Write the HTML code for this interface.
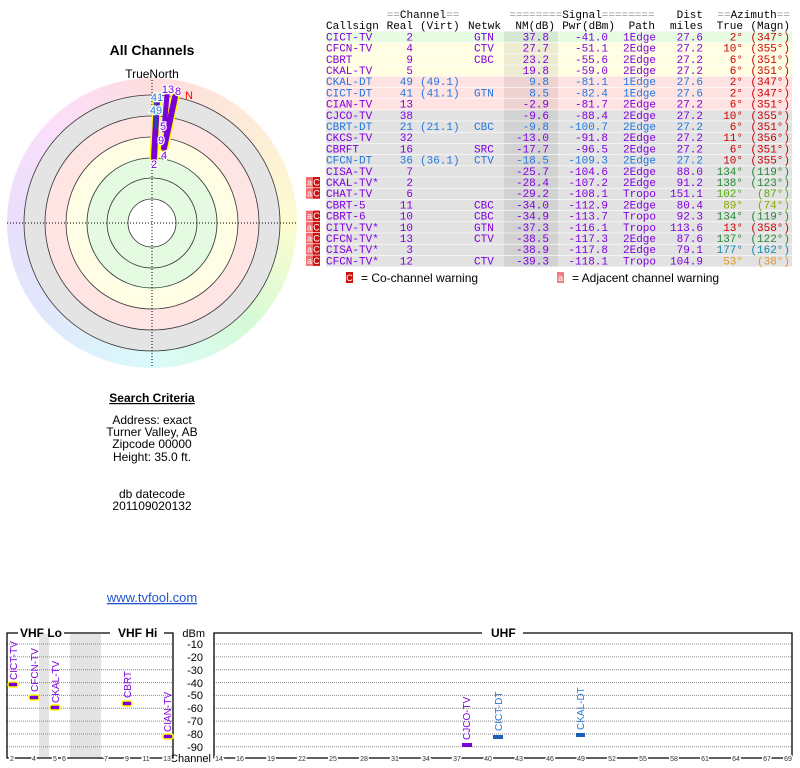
<!DOCTYPE html>
<html><head><meta charset="utf-8"><style>
html,body{margin:0;padding:0;background:#fff;}
#wrap{position:relative;width:800px;height:768px;overflow:hidden;}
#ring{position:absolute;left:7px;top:78px;width:290px;height:290px;border-radius:50%;
background:conic-gradient(from 0deg,hsl(0,90%,93%),hsl(30,90%,92%),hsl(60,90%,90%),hsl(120,80%,91%),hsl(180,80%,92%),hsl(220,80%,93%),hsl(260,80%,93%),hsl(300,80%,93%),hsl(360,90%,93%));}
svg{position:absolute;left:0;top:0;}
.m{font-family:"Liberation Mono","DejaVu Sans Mono",monospace;font-size:11px;}
.s{font-family:"Liberation Sans","DejaVu Sans",sans-serif;}
</style></head><body><div id="wrap"><div id="ring"></div>
<svg width="800" height="768" viewBox="0 0 800 768">
<!-- radar -->
<circle cx="152" cy="223" r="128" fill="#e4e4e4"/>
<circle cx="152" cy="223" r="107" fill="#ffe4e4"/>
<circle cx="152" cy="223" r="86" fill="#fffde4"/>
<circle cx="152" cy="223" r="66" fill="#e4fbe2"/>
<circle cx="152" cy="223" r="24" fill="#fff"/>
<g fill="none" stroke="#333" stroke-width="0.8">
<circle cx="152" cy="223" r="128"/><circle cx="152" cy="223" r="107"/><circle cx="152" cy="223" r="86"/><circle cx="152" cy="223" r="65"/><circle cx="152" cy="223" r="45"/><circle cx="152" cy="223" r="24"/></g>
<g stroke="#000" stroke-width="1" stroke-dasharray="1,2"><line x1="7" y1="223" x2="297" y2="223"/><line x1="152" y1="80" x2="152" y2="366"/></g>
<g stroke-linecap="round">
<line x1="154" y1="158" x2="157" y2="100" stroke="#ff0" stroke-width="9"/>
<line x1="164" y1="148" x2="175" y2="97" stroke="#ff0" stroke-width="9"/>
<line x1="154" y1="158" x2="157" y2="100" stroke="#7a00d8" stroke-width="6"/>
<line x1="164" y1="148" x2="175" y2="97" stroke="#7a00d8" stroke-width="6"/>
<line x1="164" y1="130" x2="167" y2="95" stroke="#7a00d8" stroke-width="5"/>
<line x1="156" y1="102" x2="156" y2="128" stroke="#1a4fa8" stroke-width="3"/>
</g>
<g class="s" font-size="11" text-anchor="middle" stroke="#fff" stroke-width="2.5" paint-order="stroke">
<text x="157" y="101" fill="#2277dd">41</text><text x="156" y="114" fill="#2277dd">49</text>
<text x="168" y="93" fill="#8000e0">13</text><text x="178" y="95" fill="#8000e0">8</text>
<text x="163" y="130" fill="#8000e0">5</text><text x="161" y="144" fill="#8000e0">9</text>
<text x="164" y="159" fill="#8000e0">4</text><text x="154" y="168" fill="#8000e0">2</text>
</g>
<text x="189" y="99" class="s" font-size="11" fill="#f00" text-anchor="middle">N</text>
<text x="152" y="78" class="s" font-size="12" text-anchor="middle">TrueNorth</text>
<text x="152" y="55" class="s" font-size="14" font-weight="bold" text-anchor="middle">All Channels</text>
<g class="s" font-size="12" text-anchor="middle">
<text x="152" y="402" font-weight="bold" text-decoration="underline">Search Criteria</text>
<text x="152" y="424">Address: exact</text>
<text x="152" y="436">Turner Valley, AB</text>
<text x="152" y="448">Zipcode 00000</text>
<text x="152" y="461">Height: 35.0 ft.</text>
<text x="152" y="498">db datecode</text>
<text x="152" y="510">201109020132</text>
<text x="152" y="602" fill="#2255cc" font-size="13" text-decoration="underline">www.tvfool.com</text>
</g>
<!-- table backgrounds -->
<rect x="326" y="31.4" width="466" height="11.2" fill="#e6fbe2"/>
<rect x="326" y="42.6" width="466" height="33.6" fill="#fffde2"/>
<rect x="326" y="76.2" width="466" height="33.6" fill="#ffe2e2"/>
<rect x="326" y="109.8" width="466" height="156.8" fill="#e2e2e2"/>
<rect x="504" y="31.4" width="54" height="235.2" fill="#000" fill-opacity="0.07"/>
<g stroke="#fff" stroke-width="0.6"><line x1="326" x2="792" y1="42.6" y2="42.6"/><line x1="326" x2="792" y1="53.8" y2="53.8"/><line x1="326" x2="792" y1="65" y2="65"/><line x1="326" x2="792" y1="76.2" y2="76.2"/><line x1="326" x2="792" y1="87.4" y2="87.4"/><line x1="326" x2="792" y1="98.6" y2="98.6"/><line x1="326" x2="792" y1="109.8" y2="109.8"/><line x1="326" x2="792" y1="121" y2="121"/><line x1="326" x2="792" y1="132.2" y2="132.2"/><line x1="326" x2="792" y1="143.4" y2="143.4"/><line x1="326" x2="792" y1="154.6" y2="154.6"/><line x1="326" x2="792" y1="165.8" y2="165.8"/><line x1="326" x2="792" y1="177" y2="177"/><line x1="326" x2="792" y1="188.2" y2="188.2"/><line x1="326" x2="792" y1="199.4" y2="199.4"/><line x1="326" x2="792" y1="210.6" y2="210.6"/><line x1="326" x2="792" y1="221.8" y2="221.8"/><line x1="326" x2="792" y1="233" y2="233"/><line x1="326" x2="792" y1="244.2" y2="244.2"/><line x1="326" x2="792" y1="255.4" y2="255.4"/></g>
<!-- headers -->
<g class="m">
<text x="423" y="18" text-anchor="middle"><tspan fill="#999">==</tspan>Channel<tspan fill="#999">==</tspan></text>
<text x="582" y="18" text-anchor="middle"><tspan fill="#999">========</tspan>Signal<tspan fill="#999">========</tspan></text>
<text x="703" y="18" text-anchor="end">Dist</text>
<text x="790" y="18" text-anchor="end"><tspan fill="#999">==</tspan>Azimuth<tspan fill="#999">==</tspan></text>
<text x="326" y="29">Callsign</text><text x="413" y="29" text-anchor="end">Real</text><text x="420" y="29">(Virt)</text>
<text x="468" y="29">Netwk</text><text x="555" y="29" text-anchor="end">NM(dB)</text><text x="615" y="29" text-anchor="end">Pwr(dBm)</text>
<text x="655" y="29" text-anchor="end">Path</text><text x="703" y="29" text-anchor="end">miles</text><text x="743" y="29" text-anchor="end">True</text><text x="790" y="29" text-anchor="end">(Magn)</text>
</g>
<!-- rows -->
<g class="m" fill="#8000e0">
<g transform="translate(0,40.4)"><text x="326">CICT-TV</text><text x="413" text-anchor="end">2</text><text x="474">GTN</text><text x="549" text-anchor="end">37.8</text><text x="608" text-anchor="end">-41.0</text><text x="623">1Edge</text><text x="703" text-anchor="end">27.6</text><text x="743" text-anchor="end" fill="#cc0000">2°</text><text x="790" text-anchor="end" fill="#cc0000">(347°)</text></g>
<g transform="translate(0,51.6)"><text x="326">CFCN-TV</text><text x="413" text-anchor="end">4</text><text x="474">CTV</text><text x="549" text-anchor="end">27.7</text><text x="608" text-anchor="end">-51.1</text><text x="623">2Edge</text><text x="703" text-anchor="end">27.2</text><text x="743" text-anchor="end" fill="#cc0000">10°</text><text x="790" text-anchor="end" fill="#cc0000">(355°)</text></g>
<g transform="translate(0,62.8)"><text x="326">CBRT</text><text x="413" text-anchor="end">9</text><text x="474">CBC</text><text x="549" text-anchor="end">23.2</text><text x="608" text-anchor="end">-55.6</text><text x="623">2Edge</text><text x="703" text-anchor="end">27.2</text><text x="743" text-anchor="end" fill="#cc0000">6°</text><text x="790" text-anchor="end" fill="#cc0000">(351°)</text></g>
<g transform="translate(0,74)"><text x="326">CKAL-TV</text><text x="413" text-anchor="end">5</text><text x="549" text-anchor="end">19.8</text><text x="608" text-anchor="end">-59.0</text><text x="623">2Edge</text><text x="703" text-anchor="end">27.2</text><text x="743" text-anchor="end" fill="#cc0000">6°</text><text x="790" text-anchor="end" fill="#cc0000">(351°)</text></g>
<g transform="translate(0,85.2)" fill="#2277dd"><text x="326">CKAL-DT</text><text x="413" text-anchor="end">49</text><text x="420">(49.1)</text><text x="549" text-anchor="end">9.8</text><text x="608" text-anchor="end">-81.1</text><text x="623">1Edge</text><text x="703" text-anchor="end">27.6</text><text x="743" text-anchor="end" fill="#cc0000">2°</text><text x="790" text-anchor="end" fill="#cc0000">(347°)</text></g>
<g transform="translate(0,96.4)" fill="#2277dd"><text x="326">CICT-DT</text><text x="413" text-anchor="end">41</text><text x="420">(41.1)</text><text x="474">GTN</text><text x="549" text-anchor="end">8.5</text><text x="608" text-anchor="end">-82.4</text><text x="623">1Edge</text><text x="703" text-anchor="end">27.6</text><text x="743" text-anchor="end" fill="#cc0000">2°</text><text x="790" text-anchor="end" fill="#cc0000">(347°)</text></g>
<g transform="translate(0,107.6)"><text x="326">CIAN-TV</text><text x="413" text-anchor="end">13</text><text x="549" text-anchor="end">-2.9</text><text x="608" text-anchor="end">-81.7</text><text x="623">2Edge</text><text x="703" text-anchor="end">27.2</text><text x="743" text-anchor="end" fill="#cc0000">6°</text><text x="790" text-anchor="end" fill="#cc0000">(351°)</text></g>
<g transform="translate(0,118.8)"><text x="326">CJCO-TV</text><text x="413" text-anchor="end">38</text><text x="549" text-anchor="end">-9.6</text><text x="608" text-anchor="end">-88.4</text><text x="623">2Edge</text><text x="703" text-anchor="end">27.2</text><text x="743" text-anchor="end" fill="#cc0000">10°</text><text x="790" text-anchor="end" fill="#cc0000">(355°)</text></g>
<g transform="translate(0,130)" fill="#2277dd"><text x="326">CBRT-DT</text><text x="413" text-anchor="end">21</text><text x="420">(21.1)</text><text x="474">CBC</text><text x="549" text-anchor="end">-9.8</text><text x="608" text-anchor="end">-100.7</text><text x="623">2Edge</text><text x="703" text-anchor="end">27.2</text><text x="743" text-anchor="end" fill="#cc0000">6°</text><text x="790" text-anchor="end" fill="#cc0000">(351°)</text></g>
<g transform="translate(0,141.2)"><text x="326">CKCS-TV</text><text x="413" text-anchor="end">32</text><text x="549" text-anchor="end">-13.0</text><text x="608" text-anchor="end">-91.8</text><text x="623">2Edge</text><text x="703" text-anchor="end">27.2</text><text x="743" text-anchor="end" fill="#cc0000">11°</text><text x="790" text-anchor="end" fill="#cc0000">(356°)</text></g>
<g transform="translate(0,152.4)"><text x="326">CBRFT</text><text x="413" text-anchor="end">16</text><text x="474">SRC</text><text x="549" text-anchor="end">-17.7</text><text x="608" text-anchor="end">-96.5</text><text x="623">2Edge</text><text x="703" text-anchor="end">27.2</text><text x="743" text-anchor="end" fill="#cc0000">6°</text><text x="790" text-anchor="end" fill="#cc0000">(351°)</text></g>
<g transform="translate(0,163.6)" fill="#2277dd"><text x="326">CFCN-DT</text><text x="413" text-anchor="end">36</text><text x="420">(36.1)</text><text x="474">CTV</text><text x="549" text-anchor="end">-18.5</text><text x="608" text-anchor="end">-109.3</text><text x="623">2Edge</text><text x="703" text-anchor="end">27.2</text><text x="743" text-anchor="end" fill="#cc0000">10°</text><text x="790" text-anchor="end" fill="#cc0000">(355°)</text></g>
<g transform="translate(0,174.8)"><text x="326">CISA-TV</text><text x="413" text-anchor="end">7</text><text x="549" text-anchor="end">-25.7</text><text x="608" text-anchor="end">-104.6</text><text x="623">2Edge</text><text x="703" text-anchor="end">88.0</text><text x="743" text-anchor="end" fill="#228833">134°</text><text x="790" text-anchor="end" fill="#228833">(119°)</text></g>
<g transform="translate(0,186)"><text x="326">CKAL-TV*</text><text x="413" text-anchor="end">2</text><text x="549" text-anchor="end">-28.4</text><text x="608" text-anchor="end">-107.2</text><text x="623">2Edge</text><text x="703" text-anchor="end">91.2</text><text x="743" text-anchor="end" fill="#228833">138°</text><text x="790" text-anchor="end" fill="#228833">(123°)</text></g>
<g transform="translate(0,197.2)"><text x="326">CHAT-TV</text><text x="413" text-anchor="end">6</text><text x="549" text-anchor="end">-29.2</text><text x="608" text-anchor="end">-108.1</text><text x="623">Tropo</text><text x="703" text-anchor="end">151.1</text><text x="743" text-anchor="end" fill="#55aa11">102°</text><text x="790" text-anchor="end" fill="#55aa11">(87°)</text></g>
<g transform="translate(0,208.4)"><text x="326">CBRT-5</text><text x="413" text-anchor="end">11</text><text x="474">CBC</text><text x="549" text-anchor="end">-34.0</text><text x="608" text-anchor="end">-112.9</text><text x="623">2Edge</text><text x="703" text-anchor="end">80.4</text><text x="743" text-anchor="end" fill="#88aa00">89°</text><text x="790" text-anchor="end" fill="#88aa00">(74°)</text></g>
<g transform="translate(0,219.6)"><text x="326">CBRT-6</text><text x="413" text-anchor="end">10</text><text x="474">CBC</text><text x="549" text-anchor="end">-34.9</text><text x="608" text-anchor="end">-113.7</text><text x="623">Tropo</text><text x="703" text-anchor="end">92.3</text><text x="743" text-anchor="end" fill="#228833">134°</text><text x="790" text-anchor="end" fill="#228833">(119°)</text></g>
<g transform="translate(0,230.8)"><text x="326">CITV-TV*</text><text x="413" text-anchor="end">10</text><text x="474">GTN</text><text x="549" text-anchor="end">-37.3</text><text x="608" text-anchor="end">-116.1</text><text x="623">Tropo</text><text x="703" text-anchor="end">113.6</text><text x="743" text-anchor="end" fill="#cc0000">13°</text><text x="790" text-anchor="end" fill="#cc0000">(358°)</text></g>
<g transform="translate(0,242)"><text x="326">CFCN-TV*</text><text x="413" text-anchor="end">13</text><text x="474">CTV</text><text x="549" text-anchor="end">-38.5</text><text x="608" text-anchor="end">-117.3</text><text x="623">2Edge</text><text x="703" text-anchor="end">87.6</text><text x="743" text-anchor="end" fill="#228833">137°</text><text x="790" text-anchor="end" fill="#228833">(122°)</text></g>
<g transform="translate(0,253.2)"><text x="326">CISA-TV*</text><text x="413" text-anchor="end">3</text><text x="549" text-anchor="end">-38.9</text><text x="608" text-anchor="end">-117.8</text><text x="623">2Edge</text><text x="703" text-anchor="end">79.1</text><text x="743" text-anchor="end" fill="#1188aa">177°</text><text x="790" text-anchor="end" fill="#1188aa">(162°)</text></g>
<g transform="translate(0,264.4)"><text x="326">CFCN-TV*</text><text x="413" text-anchor="end">12</text><text x="474">CTV</text><text x="549" text-anchor="end">-39.3</text><text x="608" text-anchor="end">-118.1</text><text x="623">Tropo</text><text x="703" text-anchor="end">104.9</text><text x="743" text-anchor="end" fill="#dd9922">53°</text><text x="790" text-anchor="end" fill="#dd9922">(38°)</text></g>
</g>
<!-- badges -->
<g class="s" font-size="9" fill="#fff" text-anchor="middle">
<g transform="translate(0,177)"><rect x="306" width="7" height="10.5" fill="#f07070"/><rect x="313" width="7" height="10.5" fill="#cc1111"/><text x="309.5" y="8.5">a</text><text x="316.5" y="8.5">C</text></g>
<g transform="translate(0,188.2)"><rect x="306" width="7" height="10.5" fill="#f07070"/><rect x="313" width="7" height="10.5" fill="#cc1111"/><text x="309.5" y="8.5">a</text><text x="316.5" y="8.5">C</text></g>
<g transform="translate(0,210.6)"><rect x="306" width="7" height="10.5" fill="#f07070"/><rect x="313" width="7" height="10.5" fill="#cc1111"/><text x="309.5" y="8.5">a</text><text x="316.5" y="8.5">C</text></g>
<g transform="translate(0,221.8)"><rect x="306" width="7" height="10.5" fill="#f07070"/><rect x="313" width="7" height="10.5" fill="#cc1111"/><text x="309.5" y="8.5">a</text><text x="316.5" y="8.5">C</text></g>
<g transform="translate(0,233)"><rect x="306" width="7" height="10.5" fill="#f07070"/><rect x="313" width="7" height="10.5" fill="#cc1111"/><text x="309.5" y="8.5">a</text><text x="316.5" y="8.5">C</text></g>
<g transform="translate(0,244.2)"><rect x="306" width="7" height="10.5" fill="#f07070"/><rect x="313" width="7" height="10.5" fill="#cc1111"/><text x="309.5" y="8.5">a</text><text x="316.5" y="8.5">C</text></g>
<g transform="translate(0,255.4)"><rect x="306" width="7" height="10.5" fill="#f07070"/><rect x="313" width="7" height="10.5" fill="#cc1111"/><text x="309.5" y="8.5">a</text><text x="316.5" y="8.5">C</text></g>
<g transform="translate(0,272)"><rect x="346" width="7" height="11" fill="#cc1111"/><text x="349.5" y="9">C</text><rect x="557" width="7" height="11" fill="#f08080"/><text x="560.5" y="9">a</text></g>
</g>
<g class="s" font-size="12"><text x="361" y="282">= Co-channel warning</text><text x="572" y="282">= Adjacent channel warning</text></g>
<!-- bottom chart -->
<rect x="39" y="634" width="10" height="123" fill="#e4e4e4"/>
<rect x="70" y="634" width="31" height="123" fill="#e4e4e4"/>
<g stroke="#888" stroke-width="1" stroke-dasharray="1,1">
<line x1="7" x2="173" y1="644" y2="644"/><line x1="7" x2="173" y1="656.9" y2="656.9"/><line x1="7" x2="173" y1="669.7" y2="669.7"/><line x1="7" x2="173" y1="682.6" y2="682.6"/><line x1="7" x2="173" y1="695.4" y2="695.4"/><line x1="7" x2="173" y1="708.3" y2="708.3"/><line x1="7" x2="173" y1="721.1" y2="721.1"/><line x1="7" x2="173" y1="734" y2="734"/><line x1="7" x2="173" y1="746.8" y2="746.8"/>
<line x1="214" x2="792" y1="644" y2="644"/><line x1="214" x2="792" y1="656.9" y2="656.9"/><line x1="214" x2="792" y1="669.7" y2="669.7"/><line x1="214" x2="792" y1="682.6" y2="682.6"/><line x1="214" x2="792" y1="695.4" y2="695.4"/><line x1="214" x2="792" y1="708.3" y2="708.3"/><line x1="214" x2="792" y1="721.1" y2="721.1"/><line x1="214" x2="792" y1="734" y2="734"/><line x1="214" x2="792" y1="746.8" y2="746.8"/>
</g>
<g stroke="#000" stroke-width="1.3" fill="none">
<polyline points="18,633 7,633 7,758 173,758 173,633 164,633"/>
<line x1="64" x2="110" y1="633" y2="633"/>
<polyline points="482,633 214,633 214,758 792,758 792,633 523,633"/>
</g>
<g class="s" font-size="12" font-weight="bold"><text x="20" y="637">VHF Lo</text><text x="118" y="637">VHF Hi</text><text x="491" y="637">UHF</text></g>
<g class="s" font-size="11" text-anchor="end"><text x="205" y="637">dBm</text>
<text x="203" y="648">-10</text><text x="203" y="661">-20</text><text x="203" y="674">-30</text><text x="203" y="687">-40</text><text x="203" y="699">-50</text><text x="203" y="712">-60</text><text x="203" y="725">-70</text><text x="203" y="738">-80</text><text x="203" y="751">-90</text>
<text x="211" y="762">Channel</text></g>
<g class="s" font-size="7" text-anchor="middle" fill="#333" stroke="#fff" stroke-width="3" paint-order="stroke">
<text x="12" y="761">2</text><text x="34" y="761">4</text><text x="55" y="761">5</text><text x="64" y="761">6</text><text x="106" y="761">7</text><text x="127" y="761">9</text><text x="146" y="761">11</text><text x="167" y="761">13</text>
<text x="219" y="761">14</text><text x="240" y="761">16</text><text x="271" y="761">19</text><text x="302" y="761">22</text><text x="333" y="761">25</text><text x="364" y="761">28</text><text x="395" y="761">31</text><text x="426" y="761">34</text><text x="457" y="761">37</text><text x="488" y="761">40</text><text x="519" y="761">43</text><text x="550" y="761">46</text><text x="581" y="761">49</text><text x="612" y="761">52</text><text x="643" y="761">55</text><text x="674" y="761">58</text><text x="705" y="761">61</text><text x="736" y="761">64</text><text x="767" y="761">67</text><text x="788" y="761">69</text>
</g>
<g fill="#7a00d8" stroke="#ff0" stroke-width="1.5">
<rect x="8" y="682" width="10" height="5" rx="2"/><rect x="29" y="695" width="10" height="5" rx="2"/><rect x="50" y="705" width="10" height="5" rx="2"/><rect x="122" y="701" width="10" height="5" rx="2"/><rect x="163" y="734" width="10" height="5" rx="2"/>
</g>
<rect x="462" y="743" width="10" height="4" fill="#7a00d8"/>
<rect x="493" y="735" width="10" height="4" fill="#1a5fb8"/>
<rect x="576" y="733" width="9" height="4" fill="#1a5fb8"/>
<g class="s" font-size="10">
<text transform="translate(17,680) rotate(-90)" fill="#8000e0">CICT-TV</text>
<text transform="translate(38,692) rotate(-90)" fill="#8000e0">CFCN-TV</text>
<text transform="translate(59,703) rotate(-90)" fill="#8000e0">CKAL-TV</text>
<text transform="translate(131,698) rotate(-90)" fill="#8000e0">CBRT</text>
<text transform="translate(171,732) rotate(-90)" fill="#8000e0">CIAN-TV</text>
<text transform="translate(470,740) rotate(-90)" fill="#8000e0">CJCO-TV</text>
<text transform="translate(502,731) rotate(-90)" fill="#2277dd">CICT-DT</text>
<text transform="translate(584,730) rotate(-90)" fill="#2277dd">CKAL-DT</text>
</g>
</svg></div></body></html>
